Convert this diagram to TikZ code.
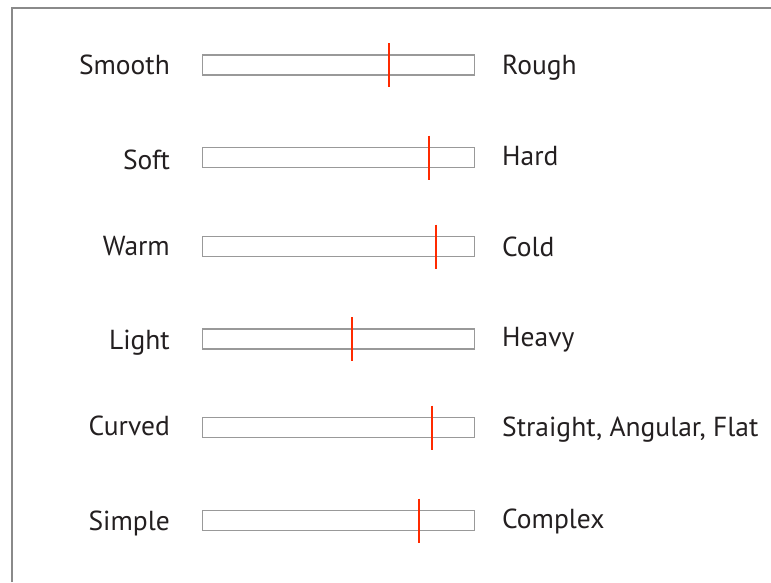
\documentclass[tikz,border=0pt]{standalone}
\usepackage{fontspec}
\setmainfont{PT Sans}
\definecolor{framegray}{HTML}{8A8A8A}
\definecolor{bargray}{HTML}{999999}
\definecolor{markred}{HTML}{FF2A00}
\definecolor{txt}{HTML}{231F20}
\tikzset{
  scalebar/.style={draw=bargray, line width=1.4pt, fill=white, rectangle,
    minimum width=272pt, minimum height=20pt, inner sep=0pt, anchor=west},
  marker/.style={draw=markred, line width=2.3pt},
  leftlabel/.style={anchor=base east, inner sep=0pt, text=txt, font=\fontsize{27.5}{30}\selectfont},
  rightlabel/.style={anchor=base west, inner sep=0pt, text=txt, font=\fontsize{27.5}{30}\selectfont},
}
\begin{document}
\begin{tikzpicture}[x=1pt, y=-1pt]
  \useasboundingbox (0,0) rectangle (771,582);
  % open frame: top and left edges only
  \draw[framegray, line width=2pt] (11.5,582) -- (11.5,7.5) -- (771,7.5);

  % rows: bar centre y, marker x, label baselines
  \foreach \name/\cy/\mx/\lb/\rb/\ltext/\rtext in {
      a/65/389/74/74/Smooth/Rough,
      b/157.5/429/169/165/Soft/Hard,
      c/246.5/436/255/256/Warm/Cold,
      d/339/352/349/346/Light/Heavy,
      e/427.5/432/435/436/Curved/{Straight, Angular, Flat},
      f/520.5/419/530/528/Simple/Complex} {
    \node[scalebar] (bar-\name) at (202,\cy) {};
    \node[leftlabel] (left-\name) at (170,\lb) {\ltext};
    \node[rightlabel] (right-\name) at (502,\rb) {\rtext};
    \draw[marker] (\mx,\cy-22) -- (\mx,\cy+22);
  }
\end{tikzpicture}
\end{document}
